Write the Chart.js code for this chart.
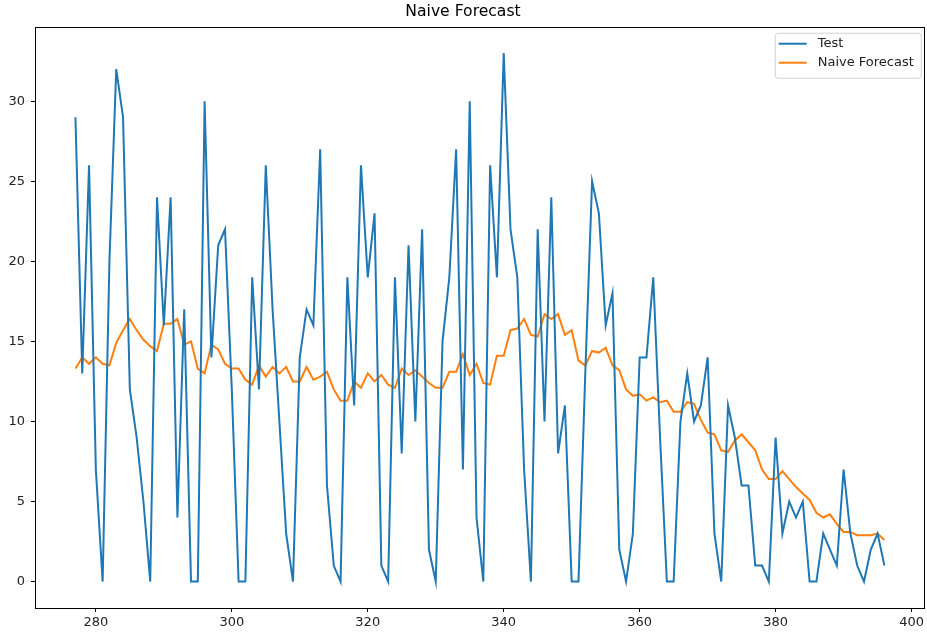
<!DOCTYPE html>
<html>
<head>
<meta charset="utf-8">
<title>Naive Forecast</title>
<script src="https://cdn.jsdelivr.net/npm/chart.js@4/dist/chart.umd.min.js"></script>
<style>
  html, body { margin: 0; padding: 0; background: #fff; }
  #wrap { width: 927px; height: 634px; }
</style>
</head>
<body>
<div id="wrap"><canvas id="forecastChart" width="927" height="634"></canvas></div>
<script>
// Test observations and naive forecast, indexed 277..396
const firstIndex = 277;

const testValues = [
  29, 13, 26, 7, 0, 20, 32, 29, 12, 9,
  5, 0, 24, 16, 24, 4, 17, 0, 0, 30,
  14, 21, 22, 12, 0, 0, 19, 12, 26, 17,
  10, 3, 0, 14, 17, 16, 27, 6, 1, 0,
  19, 11, 26, 19, 23, 1, 0, 19, 8, 21,
  10, 22, 2, 0, 15, 19, 27, 7, 30, 4,
  0, 26, 19, 33, 22, 19, 7, 0, 22, 10,
  24, 8, 11, 0, 0, 13, 25, 23, 16, 18,
  2, 0, 3, 14, 14, 19, 9, 0, 0, 10,
  13, 10, 11, 14, 3, 0, 11, 9, 6, 6,
  1, 1, 0, 9, 3, 5, 4, 5, 0, 0,
  3, 2, 1, 7, 3, 1, 0, 2, 3, 1
];

const forecastValues = [
  13.3, 14.0, 13.6, 14.0, 13.6, 13.5, 14.9, 15.7, 16.4, 15.7,
  15.1, 14.7, 14.4, 16.1, 16.1, 16.4, 14.8, 15.0, 13.3, 13.0,
  14.8, 14.5, 13.6, 13.3, 13.3, 12.6, 12.3, 13.5, 12.8, 13.4,
  13.0, 13.4, 12.5, 12.5, 13.4, 12.6, 12.8, 13.1, 12.0, 11.3,
  11.3, 12.5, 12.1, 13.0, 12.5, 12.9, 12.3, 12.1, 13.3, 12.9,
  13.2, 12.8, 12.4, 12.1, 12.1, 13.1, 13.1, 14.2, 12.9, 13.6,
  12.4, 12.3, 14.1, 14.1, 15.7, 15.8, 16.4, 15.4, 15.3, 16.7,
  16.4, 16.7, 15.4, 15.7, 13.8, 13.5, 14.4, 14.3, 14.6, 13.5,
  13.2, 12.0, 11.6, 11.7, 11.3, 11.5, 11.2, 11.3, 10.6, 10.6,
  11.2, 11.1, 10.1, 9.3, 9.2, 8.2, 8.1, 8.8, 9.2, 8.7,
  8.2, 7.0, 6.4, 6.4, 6.9, 6.4, 5.9, 5.5, 5.1, 4.3,
  4.0, 4.2, 3.6, 3.1, 3.1, 2.9, 2.9, 2.9, 3.0, 2.6
];

const xTicks = [280, 300, 320, 340, 360, 380, 400];
const yTicks = [0, 5, 10, 15, 20, 25, 30];

const indices = testValues.map((_, i) => firstIndex + i);
const toPoints = values => values.map((v, i) => ({ x: indices[i], y: v }));

const FONT = 'DejaVu Sans, Verdana, sans-serif';

// box around the plotting area (all four spines)
const framePlugin = {
  id: 'frame',
  afterDatasetsDraw(chart) {
    const { ctx, chartArea: a } = chart;
    ctx.save();
    ctx.strokeStyle = '#000';
    ctx.lineWidth = 1;
    ctx.strokeRect(Math.round(a.left) + 0.5, Math.round(a.top) + 0.5,
      Math.round(a.right - a.left) - 1, Math.round(a.bottom - a.top));
    ctx.restore();
  }
};

// legend in the upper right corner, framed
const cornerLegend = {
  id: 'cornerLegend',
  afterDraw(chart) {
    const { ctx, chartArea: a } = chart;
    const sets = chart.data.datasets;
    ctx.save();
    ctx.font = '13px ' + FONT;
    const textW = Math.max(...sets.map(d => ctx.measureText(d.label).width));
    const w = 4 + 28 + 11 + textW + 7;
    const h = 45;
    const right = a.right - 4, top = a.top + 6;
    const left = right - w;

    ctx.beginPath();
    ctx.roundRect(left + 0.5, top + 0.5, w, h, 3);
    ctx.fillStyle = 'rgba(255,255,255,0.8)';
    ctx.fill();
    ctx.strokeStyle = '#d0d0d0';
    ctx.lineWidth = 1;
    ctx.stroke();

    sets.forEach((d, i) => {
      const y = top + 11 + i * 19;
      ctx.beginPath();
      ctx.moveTo(left + 4, y);
      ctx.lineTo(left + 32, y);
      ctx.strokeStyle = d.borderColor;
      ctx.lineWidth = 2;
      ctx.stroke();
      ctx.fillStyle = '#222';
      ctx.textBaseline = 'middle';
      ctx.textAlign = 'left';
      ctx.fillText(d.label, left + 43, y);
    });
    ctx.restore();
  }
};

const ctx = document.getElementById('forecastChart').getContext('2d');
const forecastChart = new Chart(ctx, {
  type: 'line',
  data: {
    datasets: [
      {
        label: 'Test',
        data: toPoints(testValues),
        borderColor: '#1f77b4',
        borderWidth: 2,
        pointRadius: 0,
        tension: 0,
        fill: false
      },
      {
        label: 'Naive Forecast',
        data: toPoints(forecastValues),
        borderColor: '#ff7f0e',
        borderWidth: 2,
        pointRadius: 0,
        tension: 0,
        fill: false
      }
    ]
  },
  options: {
    responsive: false,
    animation: false,
    devicePixelRatio: 1,
    layout: { padding: { left: 0, right: 1, top: 0, bottom: 0 } },
    plugins: {
      legend: { display: false },
      tooltip: { enabled: false },
      title: {
        display: true,
        text: 'Naive Forecast',
        color: '#000',
        font: { family: FONT, size: 15.6, weight: 'normal' },
        padding: { top: 3, bottom: 5 }
      }
    },
    scales: {
      x: {
        type: 'linear',
        min: 271.05,
        max: 401.95,
        afterBuildTicks: axis => { axis.ticks = xTicks.map(v => ({ value: v })); },
        afterFit: axis => { axis.height = 26; },
        border: { display: false },
        grid: { drawOnChartArea: false, drawTicks: true, tickLength: 4, color: '#000' },
        ticks: { color: '#222', font: { family: FONT, size: 13 }, padding: 3, maxRotation: 0 }
      },
      y: {
        type: 'linear',
        min: -1.65,
        max: 34.65,
        afterBuildTicks: axis => { axis.ticks = yTicks.map(v => ({ value: v })); },
        afterFit: axis => { axis.width = 35; },
        border: { display: false },
        grid: { drawOnChartArea: false, drawTicks: true, tickLength: 4, color: '#000' },
        ticks: { color: '#222', font: { family: FONT, size: 13 }, padding: 6 }
      }
    }
  },
  plugins: [framePlugin, cornerLegend]
});
</script>
</body>
</html>
